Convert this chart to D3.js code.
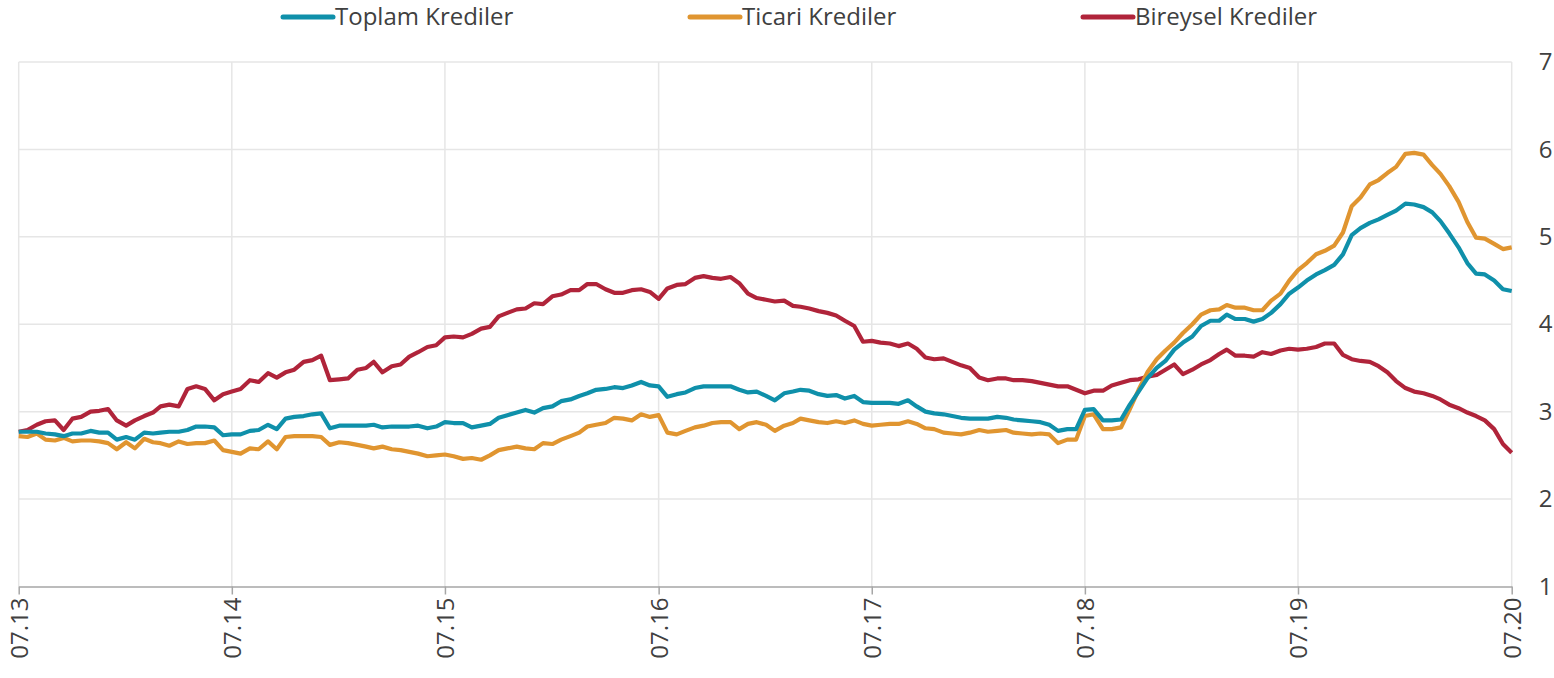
<!DOCTYPE html>
<html>
<head>
<meta charset="utf-8">
<script src="https://cdn.jsdelivr.net/npm/d3@7"></script>
<style>
  body { margin: 0; background: #fff; }
  svg { display: block; font-family: "Open Sans", sans-serif; }
</style>
</head>
<body>
<svg id="chart" width="1554" height="678"></svg>
<script>
// series names, colours in legend order
const seriesNames = ['Toplam Krediler', 'Ticari Krediler', 'Bireysel Krediler'];

// half-monthly readings, 07.2013 - 07.2020
const toplam = [
  2.77, 2.77, 2.77, 2.75, 2.74, 2.72, 2.75, 2.75, 2.78, 2.76,
  2.76, 2.68, 2.71, 2.68, 2.76, 2.75, 2.76, 2.77, 2.77, 2.79,
  2.83, 2.83, 2.82, 2.73, 2.74, 2.74, 2.78, 2.79, 2.85, 2.80,
  2.92, 2.94, 2.95, 2.97, 2.98, 2.81, 2.84, 2.84, 2.84, 2.84,
  2.85, 2.82, 2.83, 2.83, 2.83, 2.84, 2.81, 2.83, 2.88, 2.87,
  2.87, 2.82, 2.84, 2.86, 2.93, 2.96, 2.99, 3.02, 2.99, 3.04,
  3.06, 3.12, 3.14, 3.18, 3.21, 3.25, 3.26, 3.28, 3.27, 3.30,
  3.34, 3.30, 3.29, 3.17, 3.20, 3.22, 3.27, 3.29, 3.29, 3.29,
  3.29, 3.25, 3.22, 3.23, 3.18, 3.13, 3.21, 3.23, 3.25, 3.24,
  3.20, 3.18, 3.19, 3.15, 3.18, 3.11, 3.10, 3.10, 3.10, 3.09,
  3.13, 3.06, 3.00, 2.98, 2.97, 2.95, 2.93, 2.92, 2.92, 2.92,
  2.94, 2.93, 2.91, 2.90, 2.89, 2.88, 2.85, 2.78, 2.80, 2.80,
  3.02, 3.03, 2.90, 2.90, 2.91, 3.08, 3.23, 3.38, 3.50, 3.58,
  3.71, 3.79, 3.86, 3.98, 4.04, 4.04, 4.11, 4.06, 4.06, 4.03,
  4.06, 4.13, 4.23, 4.35, 4.42, 4.50, 4.57, 4.62, 4.68, 4.80,
  5.02, 5.10, 5.16, 5.20, 5.25, 5.30, 5.38, 5.37, 5.34, 5.28,
  5.18, 5.04, 4.88, 4.70, 4.58, 4.57, 4.50, 4.40, 4.38
];

const ticari = [
  2.72, 2.71, 2.75, 2.68, 2.67, 2.70, 2.66, 2.67, 2.67, 2.66,
  2.64, 2.57, 2.65, 2.58, 2.69, 2.65, 2.64, 2.61, 2.66, 2.63,
  2.64, 2.64, 2.67, 2.56, 2.54, 2.52, 2.58, 2.57, 2.66, 2.57,
  2.71, 2.72, 2.72, 2.72, 2.71, 2.62, 2.65, 2.64, 2.62, 2.60,
  2.58, 2.60, 2.57, 2.56, 2.54, 2.52, 2.49, 2.50, 2.51, 2.49,
  2.46, 2.47, 2.45, 2.50, 2.56, 2.58, 2.60, 2.58, 2.57, 2.64,
  2.63, 2.68, 2.72, 2.76, 2.83, 2.85, 2.87, 2.93, 2.92, 2.90,
  2.97, 2.94, 2.96, 2.76, 2.74, 2.78, 2.82, 2.84, 2.87, 2.88,
  2.88, 2.80, 2.86, 2.88, 2.85, 2.78, 2.84, 2.87, 2.92, 2.90,
  2.88, 2.87, 2.89, 2.87, 2.90, 2.86, 2.84, 2.85, 2.86, 2.86,
  2.89, 2.86, 2.81, 2.80, 2.76, 2.75, 2.74, 2.76, 2.79, 2.77,
  2.78, 2.79, 2.76, 2.75, 2.74, 2.75, 2.74, 2.64, 2.68, 2.68,
  2.95, 2.97, 2.80, 2.80, 2.82, 3.03, 3.25, 3.45, 3.60, 3.70,
  3.79, 3.90, 4.00, 4.11, 4.16, 4.17, 4.22, 4.19, 4.19, 4.16,
  4.16, 4.27, 4.35, 4.50, 4.62, 4.70, 4.80, 4.84, 4.90, 5.05,
  5.35, 5.45, 5.60, 5.65, 5.73, 5.80, 5.95, 5.96, 5.94, 5.82,
  5.72, 5.58, 5.40, 5.17, 4.99, 4.98, 4.92, 4.86, 4.88
];

const bireysel = [
  2.77, 2.79, 2.85, 2.89, 2.90, 2.79, 2.92, 2.94, 3.00, 3.01,
  3.03, 2.90, 2.84, 2.90, 2.95, 2.99, 3.06, 3.08, 3.06, 3.26,
  3.29, 3.26, 3.13, 3.20, 3.23, 3.26, 3.36, 3.34, 3.44, 3.39,
  3.45, 3.48, 3.57, 3.59, 3.64, 3.36, 3.37, 3.38, 3.48, 3.50,
  3.57, 3.45, 3.52, 3.54, 3.63, 3.68, 3.74, 3.76, 3.85, 3.86,
  3.85, 3.89, 3.95, 3.97, 4.09, 4.13, 4.17, 4.18, 4.24, 4.23,
  4.32, 4.34, 4.39, 4.39, 4.46, 4.46, 4.40, 4.36, 4.36, 4.39,
  4.40, 4.37, 4.29, 4.41, 4.45, 4.46, 4.53, 4.55, 4.53, 4.52,
  4.54, 4.47, 4.35, 4.30, 4.28, 4.26, 4.27, 4.21, 4.20, 4.18,
  4.15, 4.13, 4.10, 4.04, 3.98, 3.80, 3.81, 3.79, 3.78, 3.75,
  3.78, 3.72, 3.62, 3.60, 3.61, 3.57, 3.53, 3.50, 3.39, 3.36,
  3.38, 3.38, 3.36, 3.36, 3.35, 3.33, 3.31, 3.29, 3.29, 3.25,
  3.21, 3.24, 3.24, 3.30, 3.33, 3.36, 3.37, 3.40, 3.42, 3.48,
  3.54, 3.43, 3.48, 3.54, 3.59, 3.66, 3.71, 3.64, 3.64, 3.63,
  3.68, 3.66, 3.70, 3.72, 3.71, 3.72, 3.74, 3.78, 3.78, 3.65,
  3.60, 3.58, 3.57, 3.52, 3.45, 3.35, 3.27, 3.23, 3.21, 3.18,
  3.14, 3.08, 3.04, 2.99, 2.95, 2.90, 2.80, 2.63, 2.53
];

const xTickLabels = ['07.13', '07.14', '07.15', '07.16', '07.17', '07.18', '07.19', '07.20'];
const yTicks = [1, 2, 3, 4, 5, 6, 7];

// period dates: 1st and 16th of each month
const dates = toplam.map((d, i) => new Date(2013, 6 + Math.floor(i / 2), i % 2 ? 16 : 1));
const tickDates = xTickLabels.map(s => new Date(2000 + +s.slice(3), +s.slice(0, 2) - 1, 1));

const colors = ['#0f90aa', '#e09530', '#b0243a'];
const allSeries = [toplam, ticari, bireysel];

const plotLeft = 18.7, plotRight = 1511.7, plotTop = 62, plotBottom = 586.5;

var svg = d3.select('#chart');

var x = d3.scaleTime()
    .domain([tickDates[0], tickDates[tickDates.length - 1]])
    .range([plotLeft, plotRight]);

var y = d3.scaleLinear()
    .domain([1, 7])
    .range([plotBottom, plotTop]);

//Grid
var grid = svg.append('g');
grid.selectAll('line.h')
    .data(yTicks.slice(1))
    .enter().append('line')
    .attr('x1', plotLeft).attr('x2', plotRight)
    .attr('y1', d => y(d)).attr('y2', d => y(d))
    .attr('stroke', '#e6e6e6').attr('stroke-width', 1.5);
grid.selectAll('line.v')
    .data(tickDates)
    .enter().append('line')
    .attr('x1', d => x(d)).attr('x2', d => x(d))
    .attr('y1', plotTop).attr('y2', plotBottom)
    .attr('stroke', '#e6e6e6').attr('stroke-width', 1.5);

//Bottom axis
var xAxis = svg.append('g')
    .attr('transform', 'translate(0,' + plotBottom + ')')
    .call(d3.axisBottom(x)
        .tickValues(tickDates)
        .tickSize(8)
        .tickSizeOuter(0)
        .tickFormat((d, i) => xTickLabels[i]));
xAxis.select('.domain').attr('stroke', '#a6a6a6').attr('stroke-width', 1.5);
xAxis.selectAll('.tick line').attr('stroke', '#a6a6a6').attr('stroke-width', 1.5);
xAxis.selectAll('.tick text')
    .attr('font-family', '"Open Sans", sans-serif')
    .attr('font-size', 24)
    .attr('fill', '#404040')
    .attr('text-anchor', 'end')
    .attr('transform', 'rotate(-90)')
    .attr('x', -11)
    .attr('y', 0)
    .attr('dy', '0.36em');

//Right axis
var yAxis = svg.append('g')
    .attr('transform', 'translate(' + plotRight + ',0)')
    .call(d3.axisRight(y)
        .tickValues(yTicks)
        .tickFormat(d3.format('d'))
        .tickSize(0)
        .tickPadding(27));
yAxis.select('.domain').remove();
yAxis.selectAll('.tick text')
    .attr('font-family', '"Open Sans", sans-serif')
    .attr('font-size', 24)
    .attr('fill', '#404040');

//Lines
var line = d3.line()
    .x((d, i) => x(dates[i]))
    .y(d => y(d));

svg.append('g').selectAll('path')
    .data([bireysel, ticari, toplam])
    .enter().append('path')
    .attr('d', line)
    .attr('fill', 'none')
    .attr('stroke', (d) => colors[allSeries.indexOf(d)])
    .attr('stroke-width', 4.2)
    .attr('stroke-linejoin', 'round');

//Legend
const legendX = [283, 690, 1083];
var legend = svg.append('g').selectAll('g')
    .data(seriesNames)
    .enter().append('g')
    .attr('transform', (d, i) => 'translate(' + legendX[i] + ',17)');
legend.append('line')
    .attr('x1', 0).attr('x2', 50)
    .attr('stroke', (d, i) => colors[i])
    .attr('stroke-width', 5)
    .attr('stroke-linecap', 'round');
legend.append('text')
    .attr('x', 52)
    .attr('dy', '0.35em')
    .attr('font-size', 24)
    .attr('fill', '#404040')
    .text(d => d);
</script>
</body>
</html>
